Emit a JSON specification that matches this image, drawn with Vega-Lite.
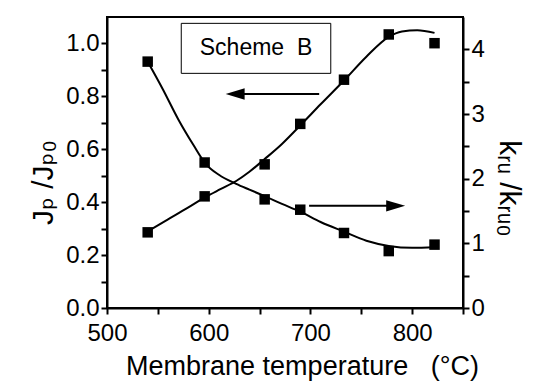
{
  "$schema": "https://vega.github.io/schema/vega-lite/v6.json",
  "width": 356,
  "height": 291,
  "autosize": {"type": "none"},
  "padding": {"left": 107, "top": 17, "right": 77, "bottom": 76},
  "background": "white",
  "config": {
    "view": {"stroke": "black", "strokeWidth": 2},
    "axis": {
      "labelFont": "Liberation Sans, DejaVu Sans",
      "titleFont": "Liberation Sans, DejaVu Sans",
      "labelFontSize": 24,
      "titleFontSize": 30,
      "titleFontWeight": "normal",
      "labelColor": "black",
      "titleColor": "black",
      "domainColor": "black",
      "tickColor": "black",
      "domainWidth": 2,
      "tickWidth": 2,
      "tickSize": 6,
      "grid": false
    }
  },
  "datasets": {
    "j_pts": [
      {"t": 540, "v": 0.286}, {"t": 596, "v": 0.422}, {"t": 655, "v": 0.543},
      {"t": 690, "v": 0.696}, {"t": 733, "v": 0.863}, {"t": 777, "v": 1.034},
      {"t": 822, "v": 1.001}
    ],
    "j_fit": [
      {"t": 540, "v": 0.29}, {"t": 560, "v": 0.335}, {"t": 580, "v": 0.38},
      {"t": 597, "v": 0.42}, {"t": 612, "v": 0.45}, {"t": 627, "v": 0.48},
      {"t": 640, "v": 0.515}, {"t": 655, "v": 0.563}, {"t": 672, "v": 0.62},
      {"t": 690, "v": 0.69}, {"t": 710, "v": 0.77}, {"t": 733, "v": 0.86},
      {"t": 755, "v": 0.95}, {"t": 777, "v": 1.025}, {"t": 790, "v": 1.045},
      {"t": 805, "v": 1.05}, {"t": 822, "v": 1.04}
    ],
    "k_pts": [
      {"t": 540, "v": 3.81}, {"t": 596, "v": 2.25}, {"t": 655, "v": 1.68},
      {"t": 690, "v": 1.52}, {"t": 733, "v": 1.16}, {"t": 777, "v": 0.88},
      {"t": 822, "v": 0.98}
    ],
    "k_fit": [
      {"t": 540, "v": 3.81}, {"t": 555, "v": 3.38}, {"t": 570, "v": 2.92},
      {"t": 585, "v": 2.52}, {"t": 597, "v": 2.23}, {"t": 610, "v": 2.06},
      {"t": 627, "v": 1.92}, {"t": 640, "v": 1.83}, {"t": 655, "v": 1.73},
      {"t": 672, "v": 1.61}, {"t": 690, "v": 1.49}, {"t": 710, "v": 1.33},
      {"t": 733, "v": 1.18}, {"t": 755, "v": 1.04}, {"t": 777, "v": 0.96},
      {"t": 800, "v": 0.93}, {"t": 822, "v": 0.94}
    ],
    "box": [{"t": 573, "t2": 720, "v": 1.076, "v2": 0.887}],
    "box_label": [{"t": 646.5, "v": 0.982, "label": "Scheme\u00a0\u00a0B"}],
    "arrow_left": [{"t": 708.6, "t2": 626, "v": 0.809}],
    "head_left": [{"t": 626, "v": 0.809}],
    "arrow_right": [{"t": 698.7, "t2": 783.8, "v": 1.58}],
    "head_right": [{"t": 783.8, "v": 1.58}]
  },
  "layer": [
    {
      "encoding": {
        "x": {
          "field": "t", "type": "quantitative",
          "scale": {"domain": [500, 850], "nice": false, "zero": false},
          "axis": {
            "orient": "bottom",
            "values": [500, 550, 600, 650, 700, 750, 800, 850],
            "labelExpr": "datum.value % 100 == 0 && datum.value < 850 ? datum.label : ''",
            "title": "Membrane temperature\u00a0\u00a0\u00a0(°C)",
            "titleFontSize": 27,
            "titleX": 195,
            "labelPadding": 7,
            "titlePadding": 8,
            "labelFlush": false
          }
        },
        "y": {
          "field": "v", "type": "quantitative",
          "scale": {"domain": [0, 1.1], "nice": false},
          "axis": {
            "orient": "left",
            "values": [0, 0.1, 0.2, 0.3, 0.4, 0.5, 0.6, 0.7, 0.8, 0.9, 1.0],
            "labelExpr": "round(datum.value * 10) % 2 == 0 ? format(datum.value, '.1f') : ''",
            "title": "Jₚ /Jₚ₀",
            "titleY": 165,
            "labelPadding": 2,
            "titlePadding": 7
          }
        }
      },
      "layer": [
        {
          "data": {"name": "j_fit"},
          "mark": {"type": "line", "color": "black", "strokeWidth": 2, "interpolate": "monotone"}
        },
        {
          "data": {"name": "j_pts"},
          "mark": {"type": "point", "shape": "square", "filled": true, "size": 110, "color": "black", "opacity": 1}
        },
        {
          "data": {"name": "box"},
          "mark": {"type": "rect", "fill": "white", "stroke": "black", "strokeWidth": 1},
          "encoding": {
            "x2": {"field": "t2"},
            "y2": {"field": "v2"}
          }
        },
        {
          "data": {"name": "box_label"},
          "mark": {"type": "text", "font": "Liberation Sans", "fontSize": 23, "color": "black", "align": "center", "baseline": "middle"},
          "encoding": {
            "text": {"field": "label"}
          }
        },
        {
          "data": {"name": "arrow_left"},
          "mark": {"type": "rule", "color": "black", "strokeWidth": 2},
          "encoding": {
            "x2": {"field": "t2"}
          }
        },
        {
          "data": {"name": "head_left"},
          "mark": {"type": "point", "shape": "M-1,0L1,-0.6L1,0.6Z", "filled": true, "size": 360, "color": "black", "opacity": 1}
        }
      ]
    },
    {
      "encoding": {
        "x": {
          "field": "t", "type": "quantitative",
          "scale": {"domain": [500, 850], "nice": false, "zero": false},
          "axis": {
            "orient": "bottom",
            "values": [500, 550, 600, 650, 700, 750, 800, 850],
            "labelExpr": "datum.value % 100 == 0 && datum.value < 850 ? datum.label : ''",
            "title": "Membrane temperature\u00a0\u00a0\u00a0(°C)",
            "titleFontSize": 27,
            "titleX": 195,
            "labelPadding": 7,
            "titlePadding": 8,
            "labelFlush": false
          }
        },
        "y": {
          "field": "v", "type": "quantitative",
          "scale": {"domain": [0, 4.5], "nice": false},
          "axis": {
            "orient": "right",
            "values": [0, 0.5, 1, 1.5, 2, 2.5, 3, 3.5, 4],
            "labelExpr": "datum.value % 1 == 0 ? format(datum.value, 'd') : ''",
            "title": "kᵣᵤ /kᵣᵤ₀",
            "titleY": 171,
            "labelPadding": 2,
            "titlePadding": 9
          }
        }
      },
      "layer": [
        {
          "data": {"name": "k_fit"},
          "mark": {"type": "line", "color": "black", "strokeWidth": 2, "interpolate": "monotone"}
        },
        {
          "data": {"name": "k_pts"},
          "mark": {"type": "point", "shape": "square", "filled": true, "size": 110, "color": "black", "opacity": 1}
        },
        {
          "data": {"name": "arrow_right"},
          "mark": {"type": "rule", "color": "black", "strokeWidth": 2},
          "encoding": {
            "x2": {"field": "t2"}
          }
        },
        {
          "data": {"name": "head_right"},
          "mark": {"type": "point", "shape": "M1,0L-1,-0.6L-1,0.6Z", "filled": true, "size": 360, "color": "black", "opacity": 1}
        }
      ]
    }
  ],
  "resolve": {"scale": {"y": "independent"}}
}
